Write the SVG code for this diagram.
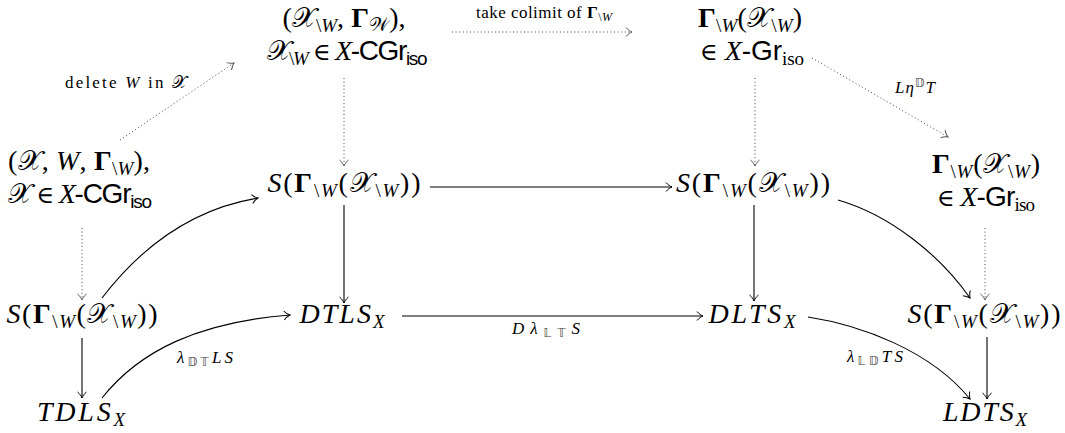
<svg xmlns="http://www.w3.org/2000/svg" width="1065" height="433" viewBox="0 0 1065 433">
<style>
.m{font-family:"Liberation Serif",serif;font-size:28px;fill:#000}
.i{font-style:italic}
.b{font-weight:bold}
.s{font-size:19px}
.cal{font-family:"DejaVu Serif","DejaVu Sans","Noto Sans",serif;font-style:normal}
.sf{font-family:"Liberation Sans",sans-serif}
.el{font-family:"DejaVu Serif",serif;font-size:24px}
.l{font-family:"Liberation Serif",serif;font-size:17px;fill:#000}
.ls{font-size:12px}
.ds{font-family:"DejaVu Sans",sans-serif;fill:#444}
.e{fill:none;stroke:#000;stroke-width:1.1}
.d{fill:none;stroke:#444;stroke-width:1;stroke-dasharray:1 2.6}
</style>
<defs>
<marker id="ah" viewBox="-8 -6 10 12" markerWidth="10" markerHeight="12" refX="0" refY="0" orient="auto" markerUnits="userSpaceOnUse">
<path d="M-6,-4.5 C-4,-2 -1.5,-0.6 0,0 C-1.5,0.6 -4,2 -6,4.5" fill="none" stroke="#000" stroke-width="1"/>
</marker>
<marker id="ahd" viewBox="-8 -6 10 12" markerWidth="10" markerHeight="12" refX="0" refY="0" orient="auto" markerUnits="userSpaceOnUse">
<path d="M-6,-4.5 C-4,-2 -1.5,-0.6 0,0 C-1.5,0.6 -4,2 -6,4.5" fill="none" stroke="#555" stroke-width="1"/>
</marker>
</defs>

<g id="connectors">
<path class="d" d="M120,140 L234,63" marker-end="url(#ahd)"/>
<path class="d" d="M452,32 L632,32" marker-end="url(#ahd)"/>
<path class="d" d="M812,58 L948,137" marker-end="url(#ahd)"/>
<path class="d" d="M344,78 L344,166" marker-end="url(#ahd)"/>
<path class="d" d="M755,78 L755,166" marker-end="url(#ahd)"/>
<path class="d" d="M82,228 L82,300" marker-end="url(#ahd)"/>
<path class="d" d="M985,228 L985,300" marker-end="url(#ahd)"/>
<path class="e" d="M430,187 L672,187" marker-end="url(#ah)"/>
<path class="e" d="M102,298 C135,255 185,210 258,198" marker-end="url(#ah)"/>
<path class="e" d="M344,205 L344,303" marker-end="url(#ah)"/>
<path class="e" d="M754,205 L754,301" marker-end="url(#ah)"/>
<path class="e" d="M838,200 C890,215 940,255 970,298" marker-end="url(#ah)"/>
<path class="e" d="M402,316 L703,316" marker-end="url(#ah)"/>
<path class="e" d="M82,338 L82,398" marker-end="url(#ah)"/>
<path class="e" d="M102,398 C140,350 200,322 290,315" marker-end="url(#ah)"/>
<path class="e" d="M808,317 C860,325 930,350 970,399" marker-end="url(#ah)"/>
<path class="e" d="M987,337 L987,399" marker-end="url(#ah)"/>
<text class="l" x="126" y="88" text-anchor="middle" textLength="122" lengthAdjust="spacing">delete <tspan class="i">W</tspan> in <tspan class="cal">𝒳</tspan></text>
<text class="l" x="544" y="18" text-anchor="middle" textLength="136" lengthAdjust="spacing">take colimit of <tspan class="b">Γ</tspan><tspan class="ls" dy="3">\</tspan><tspan class="ls i">W</tspan></text>
<text class="l i" x="915" y="93" text-anchor="middle" textLength="40" lengthAdjust="spacing">L<tspan>η</tspan><tspan class="ls ds" dy="-6" font-style="normal">𝔻</tspan><tspan dy="6">T</tspan></text>
<text class="l i" x="546" y="334" text-anchor="middle" textLength="68" lengthAdjust="spacing">D<tspan>λ</tspan><tspan class="ls ds" dy="3" font-style="normal">𝕃𝕋</tspan><tspan dy="-3">S</tspan></text>
<text class="l i" x="205" y="363" text-anchor="middle" textLength="56" lengthAdjust="spacing">λ<tspan class="ls ds" dy="3" font-style="normal">𝔻𝕋</tspan><tspan dy="-3">LS</tspan></text>
<text class="l i" x="875" y="362" text-anchor="middle" textLength="56" lengthAdjust="spacing">λ<tspan class="ls ds" dy="3" font-style="normal">𝕃𝔻</tspan><tspan dy="-3">TS</tspan></text>
</g>

<g id="nodeA">
<text class="m" x="344" y="27" text-anchor="middle" textLength="123" lengthAdjust="spacing">(<tspan class="cal">𝒳</tspan><tspan class="s" dy="5">\</tspan><tspan class="s i">W</tspan><tspan dy="-5">, </tspan><tspan class="b">Γ</tspan><tspan class="cal s" dy="4">𝒲</tspan><tspan dy="-4">),</tspan></text>
<text class="m" x="347" y="60" text-anchor="middle" textLength="161" lengthAdjust="spacing"><tspan class="cal">𝒳</tspan><tspan class="s" dy="5">\</tspan><tspan class="s i">W</tspan><tspan dy="-5"> </tspan><tspan class="el">∈</tspan> <tspan class="i">X</tspan><tspan class="sf">-CGr</tspan><tspan class="sf s" dy="5">iso</tspan></text>
</g>
<g id="nodeB">
<text class="m" x="750" y="27" text-anchor="middle" textLength="104" lengthAdjust="spacing"><tspan class="b">Γ</tspan><tspan class="s" dy="5">\</tspan><tspan class="s i">W</tspan><tspan dy="-5">(</tspan><tspan class="cal">𝒳</tspan><tspan class="s" dy="5">\</tspan><tspan class="s i">W</tspan><tspan dy="-5">)</tspan></text>
<text class="m" x="752" y="60" text-anchor="middle" textLength="104" lengthAdjust="spacing"><tspan class="el">∈</tspan> <tspan class="i">X</tspan><tspan class="sf">-Gr</tspan><tspan class="s" dy="5">iso</tspan></text>
</g>
<g id="nodeC">
<text class="m" x="79" y="170" text-anchor="middle" textLength="142" lengthAdjust="spacing">(<tspan class="cal">𝒳</tspan>, <tspan class="i">W</tspan>, <tspan class="b">Γ</tspan><tspan class="s" dy="5">\</tspan><tspan class="s i">W</tspan><tspan dy="-5">),</tspan></text>
<text class="m" x="80" y="203" text-anchor="middle" textLength="144" lengthAdjust="spacing"><tspan class="cal">𝒳</tspan> <tspan class="el">∈</tspan> <tspan class="i">X</tspan><tspan class="sf">-CGr</tspan><tspan class="sf s" dy="5">iso</tspan></text>
</g>
<g id="nodeD">
<text class="m" x="344" y="192" text-anchor="middle" textLength="153" lengthAdjust="spacing"><tspan class="i">S</tspan>(<tspan class="b">Γ</tspan><tspan class="s" dy="5">\</tspan><tspan class="s i">W</tspan><tspan dy="-5">(</tspan><tspan class="cal">𝒳</tspan><tspan class="s" dy="5">\</tspan><tspan class="s i">W</tspan><tspan dy="-5">))</tspan></text>
</g>
<g id="nodeE">
<text class="m" x="753" y="192" text-anchor="middle" textLength="154" lengthAdjust="spacing"><tspan class="i">S</tspan>(<tspan class="b">Γ</tspan><tspan class="s" dy="5">\</tspan><tspan class="s i">W</tspan><tspan dy="-5">(</tspan><tspan class="cal">𝒳</tspan><tspan class="s" dy="5">\</tspan><tspan class="s i">W</tspan><tspan dy="-5">))</tspan></text>
</g>
<g id="nodeF">
<text class="m" x="986" y="173" text-anchor="middle" textLength="108" lengthAdjust="spacing"><tspan class="b">Γ</tspan><tspan class="s" dy="5">\</tspan><tspan class="s i">W</tspan><tspan dy="-5">(</tspan><tspan class="cal">𝒳</tspan><tspan class="s" dy="5">\</tspan><tspan class="s i">W</tspan><tspan dy="-5">)</tspan></text>
<text class="m" x="986" y="206" text-anchor="middle" textLength="98" lengthAdjust="spacing"><tspan class="el">∈</tspan> <tspan class="i">X</tspan><tspan class="sf">-Gr</tspan><tspan class="s" dy="5">iso</tspan></text>
</g>
<g id="nodeG">
<text class="m" x="82" y="323" text-anchor="middle" textLength="151" lengthAdjust="spacing"><tspan class="i">S</tspan>(<tspan class="b">Γ</tspan><tspan class="s" dy="5">\</tspan><tspan class="s i">W</tspan><tspan dy="-5">(</tspan><tspan class="cal">𝒳</tspan><tspan class="s" dy="5">\</tspan><tspan class="s i">W</tspan><tspan dy="-5">))</tspan></text>
</g>
<g id="nodeH">
<text class="m i" x="342" y="323" text-anchor="middle" textLength="85" lengthAdjust="spacing">DTLS<tspan class="s" dy="5">X</tspan></text>
</g>
<g id="nodeI">
<text class="m i" x="752" y="323" text-anchor="middle" textLength="87" lengthAdjust="spacing">DLTS<tspan class="s" dy="5">X</tspan></text>
</g>
<g id="nodeJ">
<text class="m" x="984" y="323" text-anchor="middle" textLength="153" lengthAdjust="spacing"><tspan class="i">S</tspan>(<tspan class="b">Γ</tspan><tspan class="s" dy="5">\</tspan><tspan class="s i">W</tspan><tspan dy="-5">(</tspan><tspan class="cal">𝒳</tspan><tspan class="s" dy="5">\</tspan><tspan class="s i">W</tspan><tspan dy="-5">))</tspan></text>
</g>
<g id="nodeK">
<text class="m i" x="81" y="421" text-anchor="middle" textLength="88" lengthAdjust="spacing">TDLS<tspan class="s" dy="5">X</tspan></text>
</g>
<g id="nodeL">
<text class="m i" x="985" y="421" text-anchor="middle" textLength="84" lengthAdjust="spacing">LDTS<tspan class="s" dy="5">X</tspan></text>
</g>
</svg>
